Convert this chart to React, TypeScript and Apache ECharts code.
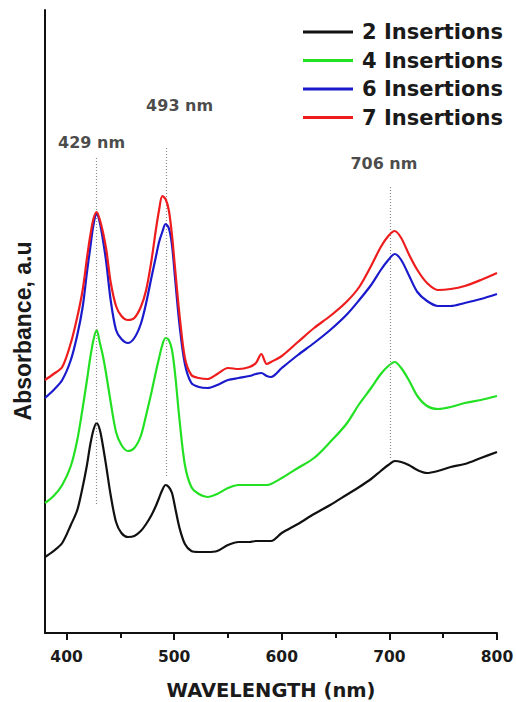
import React, { useEffect, useRef } from "react";
import * as echarts from "echarts";

const seriesNames = ["2 Insertions", "4 Insertions", "6 Insertions", "7 Insertions"];
const seriesColors = ["#111111", "#22e022", "#1a1acc", "#ee1c1c"];

const wavelengths = [380, 388, 396, 404, 410, 415, 419, 422, 425, 428, 431, 434, 437, 441, 446, 451, 457, 463, 469, 474, 479, 483, 486, 489, 492, 495, 498, 501, 505, 510, 516, 523, 531, 540, 550, 560, 570, 576, 581, 586, 590, 600, 615, 630, 645, 660, 672, 683, 692, 699, 705, 711, 718, 726, 735, 745, 757, 770, 785, 800];

const abs2 = [0.76, 0.82, 0.9, 1.08, 1.23, 1.46, 1.68, 1.88, 2.03, 2.1, 2.03, 1.86, 1.66, 1.38, 1.11, 1.0, 0.96, 0.97, 1.02, 1.09, 1.18, 1.27, 1.35, 1.43, 1.48, 1.46, 1.4, 1.25, 1.05, 0.89, 0.82, 0.81, 0.81, 0.82, 0.88, 0.91, 0.91, 0.92, 0.92, 0.92, 0.92, 1.0, 1.09, 1.19, 1.28, 1.38, 1.46, 1.54, 1.62, 1.68, 1.72, 1.71, 1.68, 1.63, 1.6, 1.62, 1.66, 1.69, 1.75, 1.81];

const abs4 = [1.3, 1.37, 1.48, 1.67, 1.93, 2.25, 2.53, 2.75, 2.93, 3.03, 2.9, 2.76, 2.58, 2.31, 2.01, 1.88, 1.82, 1.85, 1.97, 2.18, 2.41, 2.61, 2.75, 2.88, 2.95, 2.93, 2.83, 2.58, 2.13, 1.68, 1.46, 1.39, 1.36, 1.39, 1.45, 1.48, 1.48, 1.48, 1.48, 1.48, 1.49, 1.55, 1.65, 1.75, 1.91, 2.09, 2.29, 2.45, 2.59, 2.67, 2.71, 2.65, 2.53, 2.37, 2.27, 2.24, 2.26, 2.3, 2.33, 2.37];

const abs6 = [2.35, 2.43, 2.53, 2.73, 2.98, 3.26, 3.61, 3.85, 4.08, 4.19, 4.1, 3.92, 3.7, 3.33, 3.03, 2.94, 2.9, 2.95, 3.09, 3.3, 3.56, 3.76, 3.91, 4.01, 4.09, 4.05, 3.88, 3.53, 3.08, 2.69, 2.5, 2.46, 2.45, 2.48, 2.53, 2.55, 2.57, 2.59, 2.6, 2.57, 2.56, 2.65, 2.78, 2.9, 3.03, 3.18, 3.33, 3.48, 3.63, 3.73, 3.79, 3.73, 3.58, 3.41, 3.32, 3.27, 3.27, 3.3, 3.34, 3.39];

const abs7 = [2.53, 2.59, 2.66, 2.9, 3.16, 3.43, 3.75, 3.97, 4.14, 4.21, 4.13, 4.0, 3.83, 3.51, 3.27, 3.17, 3.13, 3.15, 3.26, 3.43, 3.73, 4.03, 4.23, 4.37, 4.34, 4.23, 3.98, 3.63, 3.18, 2.75, 2.58, 2.55, 2.54, 2.59, 2.65, 2.64, 2.66, 2.7, 2.79, 2.69, 2.71, 2.77, 2.91, 3.05, 3.17, 3.31, 3.46, 3.67, 3.86, 3.97, 4.02, 3.95, 3.79, 3.63, 3.5, 3.43, 3.44, 3.47, 3.53, 3.6];

const peakLabels = ["429 nm", "493 nm", "706 nm"];
const peakLineX = [428, 492.7, 700.5];
const peakLineTop = [4.75, 4.85, 4.46];
const peakLineBottom = [1.28, 1.56, 1.73];
const peakLabelX = [423.3, 505.1, 694.9];
const peakLabelY = [4.91, 5.28, 4.7];

const xTickValues = [400, 500, 600, 700, 800];
const xMinorTickValues = [450, 550, 650, 750];

const absSets = [abs2, abs4, abs6, abs7];

const FONT = "DejaVu Sans";

export default function App() {
  const ref = useRef<HTMLDivElement>(null);
  useEffect(() => {
    if (!ref.current) return;
    const chart = echarts.init(ref.current, null, { renderer: "svg" });
    const lineSeries = seriesNames.map((name, i) => ({
      name,
      type: "line",
      data: wavelengths.map((w, j) => [w, absSets[i][j]]),
      symbol: "none",
      smooth: 0.3,
      z: 3 + i,
      lineStyle: { color: seriesColors[i], width: 2.2 },
      itemStyle: { color: seriesColors[i] },
    }));
    const markSeries = {
      name: "peaks",
      type: "scatter",
      data: peakLabels.map((t, i) => ({ value: [peakLabelX[i], peakLabelY[i]], name: t })),
      symbolSize: 0,
      silent: true,
      z: 2,
      label: {
        show: true,
        position: "inside",
        formatter: (p: any) => p.name,
        fontFamily: FONT,
        fontWeight: "bold",
        fontSize: 16,
        color: "#1a1a1a",
      },
      markLine: {
        symbol: "none",
        silent: true,
        label: { show: false },
        lineStyle: { color: "#8a8a8a", type: [1, 2], width: 1.2 },
        data: peakLineX.map((x, i) => [
          { coord: [x, peakLineTop[i]] },
          { coord: [x, peakLineBottom[i]] },
        ]),
      },
    };
    chart.setOption({
      animation: false,
      backgroundColor: "#ffffff",
      grid: { left: 45, right: 19, top: 10, bottom: 69, containLabel: false, outerBoundsMode: "none" },
      legend: {
        orient: "vertical",
        left: 298,
        top: 16.5,
        icon: "rect",
        itemWidth: 50,
        itemHeight: 3,
        itemGap: 7.5,
        data: seriesNames,
        textStyle: {
          fontFamily: FONT,
          fontWeight: "bold",
          fontSize: 21,
          lineHeight: 21,
          color: "#1a1a1a",
          padding: [0, 0, 0, 4],
        },
      },
      xAxis: [
        {
          type: "value",
          min: 380,
          max: 800,
          name: "WAVELENGTH (nm)",
          nameLocation: "middle",
          nameGap: 47,
          nameTextStyle: { fontFamily: FONT, fontWeight: "bold", fontSize: 19.5, color: "#1a1a1a" },
          axisLine: { show: true, lineStyle: { color: "#111", width: 2 } },
          axisTick: { show: true, length: 7, lineStyle: { color: "#111", width: 2 }, customValues: xTickValues },
          axisLabel: {
            customValues: xTickValues,
            margin: 16,
            fontFamily: FONT,
            fontWeight: "bold",
            fontSize: 15.5,
            color: "#1a1a1a",
          },
          splitLine: { show: false },
        },
        {
          type: "value",
          min: 380,
          max: 800,
          position: "bottom",
          axisLine: { show: false },
          axisTick: { show: true, length: 5, lineStyle: { color: "#111", width: 2 }, customValues: xMinorTickValues },
          axisLabel: { show: false },
          splitLine: { show: false },
        },
      ],
      yAxis: {
        type: "value",
        min: 0,
        max: 6.23,
        axisLine: { show: true, lineStyle: { color: "#111", width: 2 } },
        axisTick: { show: false },
        axisLabel: { show: false },
        splitLine: { show: false },
      },
      graphic: [
        {
          type: "text",
          x: 23,
          y: 331,
          rotation: Math.PI / 2,
          style: {
            text: "Absorbance, a.u",
            fontFamily: "Liberation Sans",
            fontWeight: "bold",
            fontSize: 23,
            fill: "#1a1a1a",
            textAlign: "center",
            textVerticalAlign: "middle",
          },
        },
      ],
      series: [markSeries, ...lineSeries],
    });
    return () => chart.dispose();
  }, []);
  return <div ref={ref} style={{ width: 516, height: 702, position: "absolute", left: 0, top: 0 }} />;
}
